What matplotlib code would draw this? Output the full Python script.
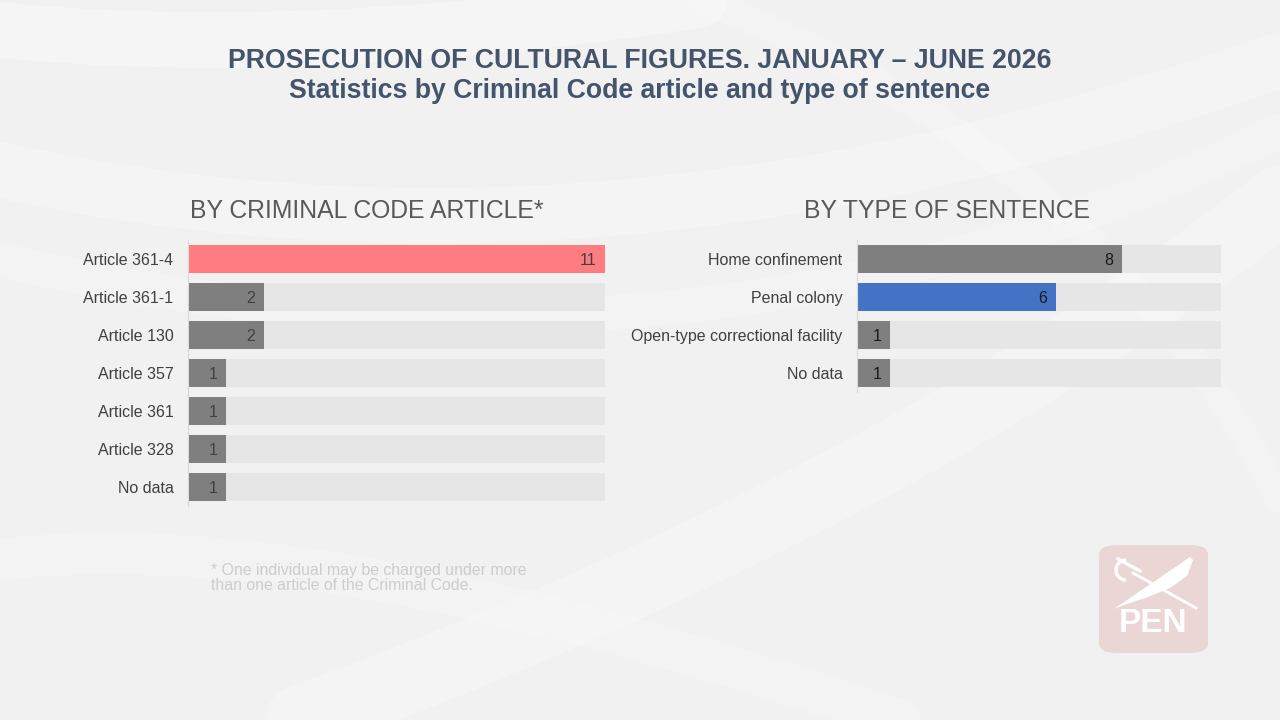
import matplotlib
matplotlib.use("Agg")
import matplotlib.pyplot as plt
from matplotlib.patches import FancyBboxPatch, Polygon
from matplotlib.lines import Line2D
import numpy as np

# ---- data ----
article_labels = ["Article 361-4", "Article 361-1", "Article 130", "Article 357",
                  "Article 361", "Article 328", "No data"]
article_values = [11, 2, 2, 1, 1, 1, 1]
article_colors = ["#FF7C80", "#7F7F7F", "#7F7F7F", "#7F7F7F", "#7F7F7F", "#7F7F7F", "#7F7F7F"]

sentence_labels = ["Home confinement", "Penal colony", "Open-type correctional facility", "No data"]
sentence_values = [8, 6, 1, 1]
sentence_colors = ["#7F7F7F", "#4472C4", "#7F7F7F", "#7F7F7F"]

axis_max = 11

title_line1 = "PROSECUTION OF CULTURAL FIGURES. JANUARY – JUNE 2026"
title_line2 = "Statistics by Criminal Code article and type of sentence"
left_heading = "BY CRIMINAL CODE ARTICLE*"
right_heading = "BY TYPE OF SENTENCE"
footnote = "* One individual may be charged under more\nthan one article of the Criminal Code."

plt.rcParams['font.family'] = ['Liberation Sans', 'DejaVu Sans']

W, H = 1280, 720
fig = plt.figure(figsize=(12.8, 7.2), dpi=100, facecolor="#F1F1F1")

# decorative background swooshes (very faint)
bg = fig.add_axes([0, 0, 1, 1], zorder=-10)
bg.set_xlim(0, W); bg.set_ylim(H, 0); bg.axis("off")
bg.set_facecolor("#F1F1F1")
t = np.linspace(0, 1, 200)
for (x0, y0, x1, y1, cx, cy, a, lw) in [
    (0, 170, 1280, 60, 600, 300, 0.25, 40),
    (0, 260, 1280, 130, 700, 420, 0.18, 25),
    (300, 720, 1280, 200, 900, 500, 0.22, 50),
    (0, 560, 900, 720, 300, 520, 0.18, 30),
    (700, 0, 1280, 500, 1100, 150, 0.2, 20),
    (0, 30, 700, 0, 300, 60, 0.3, 40),
]:
    xs = (1 - t) ** 2 * x0 + 2 * (1 - t) * t * cx + t ** 2 * x1
    ys = (1 - t) ** 2 * y0 + 2 * (1 - t) * t * cy + t ** 2 * y1
    bg.plot(xs, ys, color="white", alpha=a, lw=lw, solid_capstyle="round")

title_color = "#44546A"
fig.text(640 / W, 1 - 61 / H, title_line1, ha="center", va="center",
         fontsize=19.2, fontweight="bold", color=title_color)
fig.text(640 / W, 1 - 91 / H, title_line2, ha="center", va="center",
         fontsize=19.2, fontweight="bold", color=title_color)

fig.text(190 / W, 1 - 211 / H, left_heading, ha="left", va="center",
         fontsize=17.8, color="#595959")
fig.text(947 / W, 1 - 211 / H, right_heading, ha="center", va="center",
         fontsize=17.8, color="#595959")

def draw_panel(rect, labels, values, colors, label_color):
    ax = fig.add_axes(rect)
    ax.patch.set_alpha(0)
    n = len(labels)
    ypos = np.arange(n)
    ax.barh(ypos, [axis_max] * n, height=0.74, color="#E7E6E6", zorder=1)
    ax.barh(ypos, values, height=0.74, color=colors, zorder=2)
    for y, v in zip(ypos, values):
        ax.annotate(str(v), (v, y), xytext=(-6, 0), textcoords="offset points",
                    ha="right", va="center_baseline", fontsize=11.5,
                    color=label_color, zorder=3)
    ax.set_xlim(0, axis_max)
    ax.set_ylim(n - 0.5, -0.5)
    ax.set_yticks(ypos)
    ax.set_yticklabels(labels, fontsize=11.5, color="#404040")
    ax.tick_params(axis="y", length=0, pad=10.5)
    ax.set_xticks([])
    for s in ["top", "right", "bottom"]:
        ax.spines[s].set_visible(False)
    ax.spines["left"].set_color("#D9D9D9")
    ax.spines["left"].set_linewidth(0.8)
    return ax

draw_panel([188 / W, 1 - 506 / H, 417 / W, 266 / H],
           article_labels, article_values, article_colors, "#404040")
draw_panel([857 / W, 1 - 392 / H, 364 / W, 152 / H],
           sentence_labels, sentence_values, sentence_colors, "#1A1A1A")

fig.text(211 / W, 1 - 578 / H, footnote, ha="left", va="center",
         fontsize=11.4, color="#CDCDCD", linespacing=0.95)

# PEN logo
lx0, ly0, lx1, ly1 = 1099, 545, 1208, 653
logo = FancyBboxPatch((lx0 / W, 1 - ly1 / H), (lx1 - lx0) / W, (ly1 - ly0) / H,
                      boxstyle="round,pad=0,rounding_size=0.014",
                      transform=fig.transFigure, facecolor="#EBD6D6", edgecolor="none")
fig.add_artist(logo)
fig.text(1153.5 / W, 1 - 624 / H, "PEN", ha="center", va="center", fontsize=24,
         fontweight="bold", color="white")

def fl(x, y):
    return [xx / W for xx in x], [1 - yy / H for yy in y]

# sword: guard (D-shaped) at upper left, blade to lower right
ang = np.linspace(np.pi * 0.55, np.pi * 1.45, 30)
gx = list(1126 + 10 * np.cos(ang))
gy = list(570 - 10 * np.sin(ang) * -1)
xs, ys = fl(gx, gy)
fig.add_artist(Line2D(xs, ys, transform=fig.transFigure, color="white", lw=2.4))
xs, ys = fl([1118, 1140], [559, 571])
fig.add_artist(Line2D(xs, ys, transform=fig.transFigure, color="white", lw=2.4))
xs, ys = fl([1133, 1196], [573, 608])
fig.add_artist(Line2D(xs, ys, transform=fig.transFigure, color="white", lw=2.0))
# quill: from lower left to upper right, widening at the top
quill = Polygon([(1114 / W, 1 - 609 / H), (1190 / W, 1 - 557 / H),
                 (1193 / W, 1 - 560 / H), (1187 / W, 1 - 576 / H),
                 (1170 / W, 1 - 588 / H), (1148 / W, 1 - 597 / H),
                 (1124 / W, 1 - 605 / H)],
                closed=True, transform=fig.transFigure, facecolor="white", edgecolor="none")
fig.add_artist(quill)

fig.savefig("out.png", dpi=100, facecolor=fig.get_facecolor())
